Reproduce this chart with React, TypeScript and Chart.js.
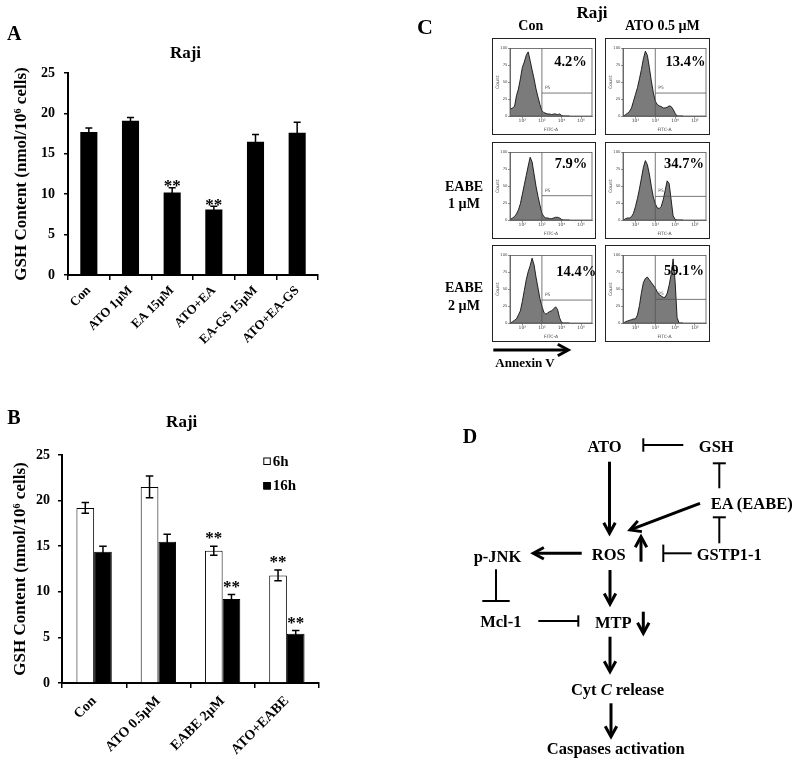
import React, { useEffect, useRef } from 'react';
import { Chart, registerables } from 'chart.js';

Chart.register(...registerables);

const FONT = '"Liberation Serif", "Times New Roman", Times, serif';
const SANS = '"DejaVu Sans", Arial, sans-serif';

// ---------------- Panel A data ----------------
const aCategories = ['Con', 'ATO 1µM', 'EA 15µM', 'ATO+EA', 'EA-GS 15µM', 'ATO+EA-GS'];
const aValues = [17.7, 19.1, 10.2, 8.1, 16.5, 17.6];
const aErrors = [0.5, 0.4, 0.6, 0.4, 0.9, 1.3];
const aSig = ['', '', '**', '**', '', ''];
const yAxisTitle = 'GSH Content (nmol/10⁶ cells)';

// ---------------- Panel B data ----------------
const bCategories = ['Con', 'ATO 0.5µM', 'EABE 2µM', 'ATO+EABE'];
const bSeriesLabels = ['6h', '16h'];
const b6h = [19.2, 21.5, 14.5, 11.8];
const b6hErr = [0.6, 1.2, 0.5, 0.6];
const b6hSig = ['', '', '**', '**'];
const b16h = [14.4, 15.5, 9.2, 5.4];
const b16hErr = [0.6, 0.8, 0.5, 0.35];
const b16hSig = ['', '', '**', '**'];

// ---------------- Panel C data (log10 FITC-A bins, relative counts) ----------------
const histBins = [1.4, 1.5, 1.6, 1.7, 1.8, 1.9, 2.0, 2.1, 2.2, 2.3, 2.4, 2.5, 2.6, 2.7, 2.8, 2.9, 3.0, 3.1, 3.2, 3.3, 3.4, 3.5, 3.6, 3.7, 3.8, 3.9, 4.0, 4.1, 4.2, 4.3, 4.4];
const histConCtrl = [10, 12, 14, 30, 40, 55, 72, 80, 90, 95, 82, 68, 55, 40, 28, 17, 8, 5, 4, 3, 3, 2, 3, 3, 2, 3, 1, 0, 0, 0, 0];
const histAtoCtrl = [0, 2, 4, 7, 12, 22, 32, 42, 55, 69, 85, 96, 90, 72, 52, 35, 22, 17, 15, 14, 12, 12, 13, 15, 14, 10, 4, 0, 0, 0, 0];
const histConEabe1 = [1, 3, 5, 9, 15, 24, 38, 52, 66, 80, 93, 86, 68, 50, 35, 22, 10, 5, 3, 3, 2, 2, 3, 4, 4, 3, 1, 0, 0, 0, 0];
const histAtoEabe1 = [0, 2, 3, 3, 5, 10, 20, 32, 46, 62, 78, 88, 82, 68, 50, 34, 24, 18, 17, 20, 30, 44, 58, 54, 30, 6, 1, 0, 0, 0, 0];
const histConEabe2 = [0, 2, 4, 6, 12, 18, 32, 48, 64, 76, 85, 96, 86, 68, 52, 36, 25, 16, 13, 15, 17, 18, 21, 24, 20, 8, 1, 0, 0, 0, 0];
const histAtoEabe2 = [0, 2, 3, 4, 5, 6, 6, 12, 26, 45, 60, 66, 68, 64, 60, 56, 52, 46, 42, 40, 38, 38, 44, 56, 72, 95, 62, 8, 0, 0, 0];
const cPercents = ['4.2%', '13.4%', '7.9%', '34.7%', '14.4%', '59.1%'];
const cGateX = 3;
const cGateY = [34, 34, 36, 35, 34, 35];
const cDecades = [2, 3, 4, 5];
const cDecadeLabels = ['10²', '10³', '10⁴', '10⁵'];
const cCountTicks = [0, 25, 50, 75, 100];
const cColumnLabels = ['Con', 'ATO 0.5 µM'];
const cRowLabels = [['EABE', '1 µM'], ['EABE', '2 µM']];

// ---------------- helpers ----------------
const bold = (size: number) => ({ family: FONT, size, weight: 'bold' as const });

function errorBarsPlugin(errs: number[][], sigs: string[][], cap: number, sigShift: number) {
  return {
    id: 'errbars',
    afterDatasetsDraw(chart: any) {
      const ctx = chart.ctx;
      const ys = chart.scales.y;
      chart.data.datasets.forEach((ds: any, di: number) => {
        const meta = chart.getDatasetMeta(di);
        meta.data.forEach((bar: any, i: number) => {
          const v = ds.data[i] as number;
          const e = errs[di][i];
          const x = bar.x;
          const yTop = ys.getPixelForValue(v + e);
          const yBot = ys.getPixelForValue(v - e);
          ctx.save();
          ctx.strokeStyle = '#000';
          ctx.lineWidth = 1.5;
          ctx.beginPath();
          ctx.moveTo(x, yTop); ctx.lineTo(x, yBot);
          ctx.moveTo(x - cap / 2, yTop); ctx.lineTo(x + cap / 2, yTop);
          ctx.moveTo(x - cap / 2, yBot); ctx.lineTo(x + cap / 2, yBot);
          ctx.stroke();
          const s = sigs[di][i];
          if (s) {
            ctx.fillStyle = '#000';
            ctx.font = `bold 17px ${FONT}`;
            ctx.textAlign = 'center';
            ctx.textBaseline = 'alphabetic';
            ctx.fillText(s, x, yTop + sigShift);
          }
          ctx.restore();
        });
      });
    },
  };
}

const insideLegendPlugin = {
  id: 'insideLegend',
  afterDraw(chart: any) {
    const { ctx, chartArea } = chart;
    chart.data.datasets.forEach((ds: any, i: number) => {
      const x = chartArea.right - 55.7;
      const yc = chartArea.top + 6.2 + i * 24.5;
      ctx.save();
      ctx.fillStyle = ds.backgroundColor;
      ctx.fillRect(x, yc - 3.7, 7.5, 7.5);
      ctx.strokeStyle = '#000';
      ctx.lineWidth = 1;
      ctx.strokeRect(x + 0.5, yc - 3.2, 6.5, 6.5);
      ctx.fillStyle = '#000';
      ctx.font = `bold 15px ${FONT}`;
      ctx.textAlign = 'left';
      ctx.textBaseline = 'middle';
      ctx.fillText(ds.label, x + 9.5, yc + 0.5);
      ctx.restore();
    });
  },
};

function gatePlugin(gateYPct: number) {
  return {
    id: 'gate',
    afterDatasetsDraw(chart: any) {
      const { ctx, chartArea: a, scales } = chart;
      const gx = scales.x.getPixelForValue(cGateX);
      const gy = scales.y.getPixelForValue(gateYPct);
      ctx.save();
      ctx.strokeStyle = '#555';
      ctx.lineWidth = 0.8;
      ctx.strokeRect(a.left, a.top, a.right - a.left, a.bottom - a.top);
      ctx.beginPath();
      ctx.moveTo(gx, a.top); ctx.lineTo(gx, a.bottom);
      ctx.moveTo(gx, gy); ctx.lineTo(a.right, gy);
      ctx.stroke();
      ctx.fillStyle = '#555';
      ctx.font = `4.5px ${SANS}`;
      ctx.textAlign = 'left';
      ctx.textBaseline = 'alphabetic';
      ctx.fillText('P5', gx + 3, gy - 4);
      ctx.restore();
    },
  };
}

function makeA(): any {
  return {
    type: 'bar',
    data: {
      labels: aCategories,
      datasets: [{ label: 'GSH', data: aValues, backgroundColor: '#000', borderWidth: 0, categoryPercentage: 1, barPercentage: 0.41 }],
    },
    options: {
      responsive: false, animation: false, events: [],
      layout: { padding: { left: 11, right: 22, top: 33, bottom: 0 } },
      plugins: { legend: { display: false }, tooltip: { enabled: false } },
      scales: {
        x: {
          grid: { drawOnChartArea: false, drawTicks: true, tickLength: 5, color: '#000', lineWidth: 1.5, offset: true },
          border: { display: true, color: '#000', width: 2 },
          ticks: { color: '#000', font: bold(13), minRotation: 45, maxRotation: 45, padding: 3, autoSkip: false },
          afterFit: (s: any) => { s.height = 95; },
        },
        y: {
          min: 0, max: 25,
          ticks: { stepSize: 5, color: '#000', font: bold(14), padding: 9 },
          grid: { drawOnChartArea: false, drawTicks: true, tickLength: 4, color: '#000', lineWidth: 1.5 },
          border: { display: true, color: '#000', width: 2 },
          title: { display: true, text: yAxisTitle, color: '#000', font: bold(17), padding: { top: 0, bottom: 0 } },
          afterFit: (s: any) => { s.width = 57; },
        },
      },
    },
    plugins: [errorBarsPlugin([aErrors], [aSig], 7, 3.5)],
  };
}

function makeB(): any {
  return {
    type: 'bar',
    data: {
      labels: bCategories,
      datasets: [
        { label: bSeriesLabels[0], data: b6h, backgroundColor: '#fff', borderColor: '#000', borderWidth: 1, categoryPercentage: 0.55, barPercentage: 1 },
        { label: bSeriesLabels[1], data: b16h, backgroundColor: '#000', borderColor: '#000', borderWidth: 1, categoryPercentage: 0.55, barPercentage: 1 },
      ],
    },
    options: {
      responsive: false, animation: false, events: [],
      layout: { padding: { left: 10, right: 21, top: 45, bottom: 0 } },
      plugins: { legend: { display: false }, tooltip: { enabled: false } },
      scales: {
        x: {
          grid: { drawOnChartArea: false, drawTicks: true, tickLength: 5, color: '#000', lineWidth: 1.5, offset: true },
          border: { display: true, color: '#000', width: 2 },
          ticks: { color: '#000', font: bold(14), minRotation: 45, maxRotation: 45, padding: 5, autoSkip: false },
          afterFit: (s: any) => { s.height = 83; },
        },
        y: {
          min: 0, max: 25,
          ticks: { stepSize: 5, color: '#000', font: bold(14), padding: 8 },
          grid: { drawOnChartArea: false, drawTicks: true, tickLength: 4, color: '#000', lineWidth: 1.5 },
          border: { display: true, color: '#000', width: 2 },
          title: { display: true, text: yAxisTitle, color: '#000', font: bold(17), padding: { top: 0, bottom: 0 } },
          afterFit: (s: any) => { s.width = 52; },
        },
      },
    },
    plugins: [errorBarsPlugin([b6hErr, b16hErr], [b6hSig, b16hSig], 7.5, -3), insideLegendPlugin],
  };
}

function makeHist(counts: number[], gateY: number): any {
  const tiny = { family: SANS, size: 4.5 };
  return {
    type: 'line',
    data: {
      datasets: [{
        data: histBins.map((b, i) => ({ x: b, y: counts[i] })),
        fill: 'origin', backgroundColor: '#7b7b7b', borderColor: '#111', borderWidth: 0.9,
        pointRadius: 0, tension: 0,
      }],
    },
    options: {
      responsive: false, animation: false, events: [],
      layout: { padding: { left: 0, right: 4, top: 10.5, bottom: 0 } },
      plugins: { legend: { display: false }, tooltip: { enabled: false } },
      scales: {
        x: {
          type: 'linear', min: 1.37, max: 5.56,
          afterBuildTicks: (s: any) => { s.ticks = cDecades.map((v) => ({ value: v })); },
          ticks: { callback: (v: any) => cDecadeLabels[cDecades.indexOf(v)] ?? '', font: tiny, color: '#444', padding: 0, maxRotation: 0, minRotation: 0, autoSkip: false },
          grid: { drawOnChartArea: false, tickLength: 2.5, color: '#444', lineWidth: 0.6 },
          border: { display: true, color: '#555', width: 0.8 },
          title: { display: true, text: 'FITC-A', font: tiny, color: '#444', padding: { top: 0, bottom: 2.5 } },
          afterFit: (s: any) => { s.height = 19; },
        },
        y: {
          min: 0, max: 100,
          afterBuildTicks: (s: any) => { s.ticks = cCountTicks.map((v) => ({ value: v })); },
          ticks: { font: { family: SANS, size: 3.8 }, color: '#444', padding: 0.5, autoSkip: false },
          grid: { drawOnChartArea: false, tickLength: 2, color: '#444', lineWidth: 0.6 },
          border: { display: true, color: '#555', width: 0.8 },
          title: { display: true, text: 'Count', font: tiny, color: '#444', padding: { top: 3, bottom: 0 } },
          afterFit: (s: any) => { s.width = 18; },
        },
      },
    },
    plugins: [gatePlugin(gateY)],
  };
}

function ChartCanvas({ left, top, width, height, make }: any) {
  const ref = useRef<HTMLCanvasElement>(null);
  useEffect(() => {
    const chart = new Chart(ref.current as HTMLCanvasElement, make());
    return () => chart.destroy();
  }, []);
  return (
    <canvas
      ref={ref}
      width={width}
      height={height}
      style={{ position: 'absolute', left, top, width, height }}
    />
  );
}

// ---------------- Diagram helpers (panel D) ----------------
function Arrow({ x1, y1, x2, y2 }: any) {
  const ang = Math.atan2(y2 - y1, x2 - x1);
  const head = 12;
  const spread = 0.5;
  const p = (a: number) => `${x2 + head * Math.cos(a)},${y2 + head * Math.sin(a)}`;
  return (
    <g stroke="#000" strokeWidth={3} fill="none">
      <line x1={x1} y1={y1} x2={x2 - 1.5 * Math.cos(ang)} y2={y2 - 1.5 * Math.sin(ang)} />
      <polyline points={`${p(ang + Math.PI - spread)} ${x2},${y2} ${p(ang + Math.PI + spread)}`} strokeLinejoin="miter" />
    </g>
  );
}

function Inhibit({ x1, y1, x2, y2, bar }: any) {
  const ang = Math.atan2(y2 - y1, x2 - x1);
  const px = -Math.sin(ang) * bar;
  const py = Math.cos(ang) * bar;
  return (
    <g stroke="#000" strokeWidth={2}>
      <line x1={x1} y1={y1} x2={x2} y2={y2} />
      <line x1={x2 + px} y1={y2 + py} x2={x2 - px} y2={y2 - py} />
    </g>
  );
}

const dNodes = [
  { t: 'ATO', x: 604.5, y: 446.2 },
  { t: 'GSH', x: 716.3, y: 446.2 },
  { t: 'EA (EABE)', x: 751.7, y: 503.3 },
  { t: 'ROS', x: 608.8, y: 554.7 },
  { t: 'GSTP1-1', x: 729.2, y: 554.7 },
  { t: 'p-JNK', x: 497.5, y: 556.5 },
  { t: 'Mcl-1', x: 500.8, y: 621.3 },
  { t: 'MTP', x: 613.3, y: 622.5 },
  { t: 'Caspases activation', x: 615.8, y: 748 },
];
const dArrows = [
  [609.5, 461.7, 609.5, 533.3],
  [700, 503.3, 630, 530],
  [581.7, 553.3, 533.3, 553.3],
  [641, 561.7, 641, 536.7],
  [610, 570, 610, 604],
  [643.3, 611.7, 643.3, 633.3],
  [610, 636.7, 610, 671.7],
  [611, 703.3, 611, 736.7],
];
const dInhibits = [
  [683.3, 445, 643.3, 445, 6.7],
  [719.3, 488.3, 719.3, 463.3, 6.5],
  [719.3, 543.3, 719.3, 517.3, 6.5],
  [691.7, 553.3, 663.3, 553.3, 8.7],
  [496, 569.3, 496, 601, 13.7],
  [538.3, 621, 578.3, 621, 5.7],
];

function Txt({ x, y, size, children, italic }: any) {
  return (
    <text
      x={x}
      y={y + 0.34 * size}
      textAnchor="middle"
      fontWeight="bold"
      fontStyle={italic ? 'italic' : 'normal'}
      fontSize={size}
      fontFamily={FONT}
      fill="#000"
    >
      {children}
    </text>
  );
}

const histSeries = [histConCtrl, histAtoCtrl, histConEabe1, histAtoEabe1, histConEabe2, histAtoEabe2];
const boxLefts = [491.5, 605];
const boxWidths = [104, 105];
const boxTops = [37.5, 142.3, 245.3];
const pctPos = [
  [570.5, 61], [685.5, 61],
  [571, 163.3], [684, 163.3],
  [576.3, 271], [684, 269.7],
];

export default function App() {
  return (
    <div style={{ position: 'absolute', left: 0, top: 0, width: 800, height: 766, background: '#fff', overflow: 'hidden' }}>
      <ChartCanvas left={0} top={40} width={340} height={330} make={makeA} />
      <ChartCanvas left={0} top={410} width={340} height={356} make={makeB} />
      {histSeries.map((counts, i) => {
        const col = i % 2;
        const row = Math.floor(i / 2);
        return (
          <React.Fragment key={i}>
            <ChartCanvas
              left={boxLefts[col]}
              top={boxTops[row]}
              width={boxWidths[col]}
              height={97}
              make={() => makeHist(counts, cGateY[i])}
            />
            <div
              style={{
                position: 'absolute', left: boxLefts[col], top: boxTops[row], width: boxWidths[col], height: 97,
                boxSizing: 'border-box', border: '1.5px solid #222', pointerEvents: 'none',
              }}
            />
          </React.Fragment>
        );
      })}
      <svg width={800} height={766} style={{ position: 'absolute', left: 0, top: 0 }}>
        {/* Panel A */}
        <Txt x={14.2} y={33} size={20}>A</Txt>
        <Txt x={185.5} y={52.5} size={17}>Raji</Txt>
        {/* Panel B */}
        <Txt x={14} y={417.5} size={20}>B</Txt>
        <Txt x={181.7} y={421.5} size={17}>Raji</Txt>
        {/* Panel C */}
        <Txt x={425} y={26.7} size={22}>C</Txt>
        <Txt x={592} y={12.2} size={17}>Raji</Txt>
        <Txt x={530.8} y={25.7} size={14}>{cColumnLabels[0]}</Txt>
        <Txt x={662.3} y={25.7} size={14}>{cColumnLabels[1]}</Txt>
        <Txt x={464} y={186} size={14}>{cRowLabels[0][0]}</Txt>
        <Txt x={464} y={203} size={14}>{cRowLabels[0][1]}</Txt>
        <Txt x={464} y={287.5} size={14}>{cRowLabels[1][0]}</Txt>
        <Txt x={464} y={304.8} size={14}>{cRowLabels[1][1]}</Txt>
        {cPercents.map((p, i) => (
          <Txt key={i} x={pctPos[i][0]} y={pctPos[i][1]} size={14.5}>{p}</Txt>
        ))}
        <Arrow x1={493.3} y1={350} x2={568.3} y2={350} />
        <Txt x={525} y={362.5} size={13}>Annexin V</Txt>
        {/* Panel D */}
        <Txt x={470} y={436} size={20}>D</Txt>
        {dNodes.map((n, i) => (
          <Txt key={i} x={n.x} y={n.y} size={16.5}>{n.t}</Txt>
        ))}
        <text x={617.5} y={689.2 + 0.34 * 16.5} textAnchor="middle" fontWeight="bold" fontSize={16.5} fontFamily={FONT} fill="#000">
          Cyt <tspan fontStyle="italic">C</tspan> release
        </text>
        {dArrows.map((a, i) => (
          <Arrow key={i} x1={a[0]} y1={a[1]} x2={a[2]} y2={a[3]} />
        ))}
        {dInhibits.map((a, i) => (
          <Inhibit key={i} x1={a[0]} y1={a[1]} x2={a[2]} y2={a[3]} bar={a[4]} />
        ))}
      </svg>
    </div>
  );
}
